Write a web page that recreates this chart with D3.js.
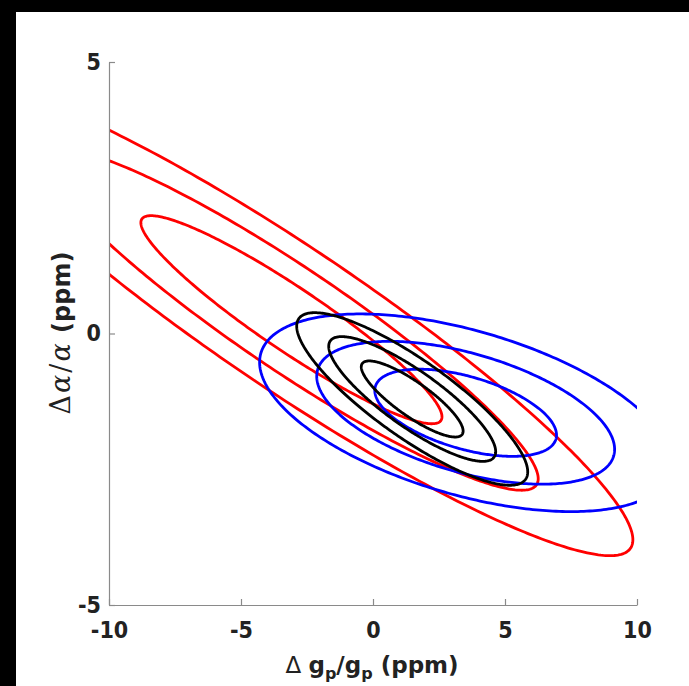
<!DOCTYPE html>
<html>
<head>
<meta charset="utf-8">
<script src="https://cdn.jsdelivr.net/npm/d3@7"></script>
<style>
  html, body { margin: 0; padding: 0; background: #fff; overflow: hidden; }
  svg { display: block; }
  .tick text { font-family: "DejaVu Sans", sans-serif; font-weight: bold; font-stretch: condensed; }
</style>
</head>
<body>
<svg id="chart" width="689" height="686"></svg>
<script>
// ---- data ----
const seriesNames = ["red", "blue", "black"];
const centerX = [-3.09, 3.51, 1.485];
const centerY = [0.254, -1.46, -1.206];
const varX = [14.14, 5.15, 1.618];
const varY = [1.596, 0.28, 0.2135];
const covXY = [-4.43, -0.614, -0.496];
const chi2Levels = [2.30, 6.18, 11.83];   // 1σ, 2σ, 3σ for 2 dof
const xTicks = [-10, -5, 0, 5, 10];
const yTicks = [-5, 0, 5];
const xDomain = [-10, 10];
const yDomain = [-5, 5];

// ---- styles ----
const colors = { red: "#ff0000", blue: "#0000ff", black: "#000000" };

const W = 689, H = 686;
const margin = { left: 109, right: W - 637, top: 62, bottom: H - 605 };
const svg = d3.select("#chart");

// black strips on top and left as in the reference
svg.append("rect").attr("x", 0).attr("y", 0).attr("width", W).attr("height", 12).attr("fill", "#000");
svg.append("rect").attr("x", 0).attr("y", 0).attr("width", 16).attr("height", H).attr("fill", "#000");

const x = d3.scaleLinear().domain(xDomain).range([margin.left, W - margin.right]);
const y = d3.scaleLinear().domain(yDomain).range([H - margin.bottom, margin.top]);

svg.append("clipPath").attr("id", "clip")
  .append("rect")
  .attr("x", x(xDomain[0])).attr("y", y(yDomain[1]))
  .attr("width", x(xDomain[1]) - x(xDomain[0]))
  .attr("height", y(yDomain[0]) - y(yDomain[1]));

// ellipses
const tSteps = d3.range(0, 361).map(d => d * Math.PI / 180);
const line = d3.line().x(d => x(d[0])).y(d => y(d[1])).curve(d3.curveLinearClosed);
const plot = svg.append("g").attr("clip-path", "url(#clip)");

seriesNames.forEach((name, i) => {
  const a = Math.sqrt(varX[i]);
  const b = covXY[i] / a;
  const c = Math.sqrt(varY[i] - b * b);
  chi2Levels.forEach(k2 => {
    const k = Math.sqrt(k2);
    const pts = tSteps.map(t => {
      const u = k * Math.cos(t), v = k * Math.sin(t);
      return [centerX[i] + a * u, centerY[i] + b * u + c * v];
    });
    plot.append("path")
      .attr("d", line(pts))
      .attr("fill", "none")
      .attr("stroke", colors[name])
      .attr("stroke-width", 2.8);
  });
});

// axes
const axisColor = "#8a8a8a";
const fmt = d => String(d);
const xAxis = svg.append("g")
  .attr("transform", `translate(0,${y(yDomain[0])})`)
  .call(d3.axisBottom(x).tickValues(xTicks).tickFormat(fmt).tickSizeInner(-6).tickSizeOuter(0).tickPadding(17));
const yAxis = svg.append("g")
  .attr("transform", `translate(${x(xDomain[0])},0)`)
  .call(d3.axisLeft(y).tickValues(yTicks).tickFormat(fmt).tickSizeInner(-6).tickSizeOuter(0).tickPadding(8));

[xAxis, yAxis].forEach(g => {
  g.select(".domain").attr("stroke", axisColor).attr("stroke-width", 1.2);
  g.selectAll(".tick line").attr("stroke", axisColor).attr("stroke-width", 1.2);
  g.selectAll(".tick text").attr("fill", "#222").attr("font-size", 23);
});

// x label
const xl = svg.append("text")
  .attr("x", 372).attr("y", 673)
  .attr("text-anchor", "middle")
  .attr("font-family", "DejaVu Sans, sans-serif")
  .attr("font-size", 23)
  .attr("font-weight", "bold")
  .attr("fill", "#222");
xl.append("tspan").attr("font-weight", "normal").text("Δ ");
xl.append("tspan").text("g");
xl.append("tspan").attr("font-size", 16).attr("dy", 6).text("p");
xl.append("tspan").attr("dy", -6).text("/g");
xl.append("tspan").attr("font-size", 16).attr("dy", 6).text("p");
xl.append("tspan").attr("dy", -6).text(" (ppm)");

// y label
const yl = svg.append("text")
  .attr("transform", "translate(70,333) rotate(-90)")
  .attr("text-anchor", "middle")
  .attr("font-family", "DejaVu Sans, sans-serif")
  .attr("font-size", 24)
  .attr("font-weight", "bold")
  .attr("fill", "#222");
const mathAttrs = s => s.attr("font-family", "DejaVu Serif, serif").attr("font-weight", "normal").attr("font-size", 27).attr("letter-spacing", 2);
yl.append("tspan").call(mathAttrs).text("Δ");
yl.append("tspan").call(mathAttrs).attr("font-style", "italic").text("α");
yl.append("tspan").call(mathAttrs).text("/");
yl.append("tspan").call(mathAttrs).attr("font-style", "italic").text("α");
yl.append("tspan").text(" (ppm)");
</script>
</body>
</html>
